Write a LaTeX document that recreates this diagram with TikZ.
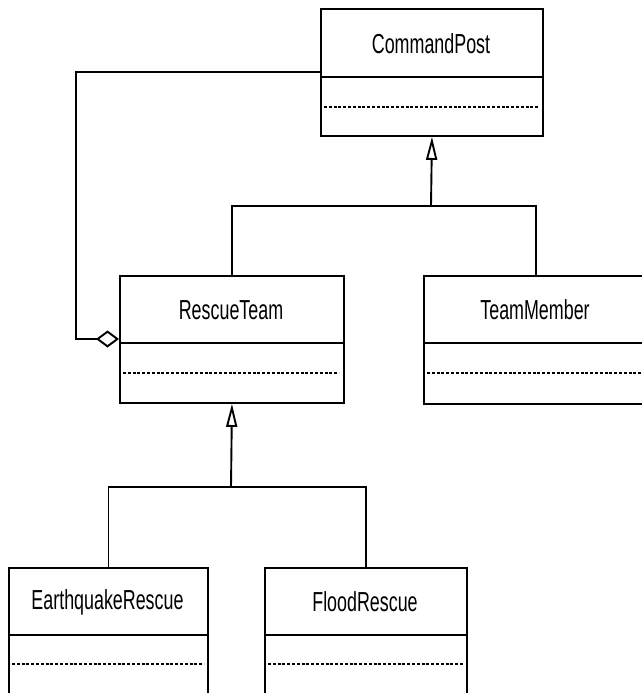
\documentclass[tikz,border=0pt]{standalone}
\usepackage{fontspec}
\setmainfont[FakeStretch=0.65]{Liberation Sans}
\usetikzlibrary{arrows.meta}
\begin{document}
\begin{tikzpicture}[x=1pt,y=-1pt,
  line width=1.9pt,
  classbox/.style={draw, rectangle, anchor=north west, inner sep=0pt},
  cname/.style={font=\fontsize{27.5}{30}\selectfont, inner sep=0pt},
  dots/.style={line width=2.8pt, dash pattern=on 3pt off 1.8pt},
  gen/.style={-{Triangle[open, length=23pt, width=11pt]}},
  agg/.style={-{Diamond[open, length=23pt, width=17pt]}}]
\useasboundingbox (0,0) rectangle (642,693);
\clip (0,0) rectangle (642,693);
% CommandPost
\node[classbox, minimum width=222pt, minimum height=127pt] (cp) at (320,8) {};
\node[cname] (cpn) at (431,44) {CommandPost};
\draw (320,77) -- (542,77);
\draw[dots] (324,107) -- (538,107);
% RescueTeam
\node[classbox, minimum width=224pt, minimum height=127pt] (rt) at (119,275) {};
\node[cname] (rtn) at (231,310) {RescueTeam};
\draw (119,343) -- (343,343);
\draw[dots] (123,373) -- (339,373);
% TeamMember
\node[classbox, minimum width=224pt, minimum height=128pt] (tm) at (423,275) {};
\node[cname] (tmn) at (535,310) {TeamMember};
\draw (423,343) -- (647,343);
\draw[dots] (427,373) -- (647,373);
% EarthquakeRescue
\node[classbox, minimum width=199pt, minimum height=140pt] (er) at (8,567) {};
\node[cname] (ern) at (107.5,602) {EarthquakeRescue};
\draw (8,635) -- (207,635);
\draw[dots] (12,664) -- (204,664);
% FloodRescue
\node[classbox, minimum width=202pt, minimum height=140pt] (fr) at (264,567) {};
\node[cname] (frn) at (365,602) {FloodRescue};
\draw (264,635) -- (466,635);
\draw[dots] (268,664) -- (463,664);
% generalization to CommandPost
\coordinate (j1) at (431,206);
\draw (rt.north) -- (rt.north |- j1) -- (tm.north |- j1) -- (tm.north);
\draw[gen] (j1) -- (cp.south);
% generalization to RescueTeam
\coordinate (j2) at (231,487);
\draw (er.north) -- (er.north |- j2) -- (fr.north |- j2) -- (fr.north);
\draw[gen] (j2) -- (rt.south);
% aggregation
\coordinate (a1) at (76,72);
\coordinate (a2) at (76,339);
\draw[agg] (cp.west |- a1) -- (a1) -- (a2) -- (rt.west |- a2);
\end{tikzpicture}
\end{document}
